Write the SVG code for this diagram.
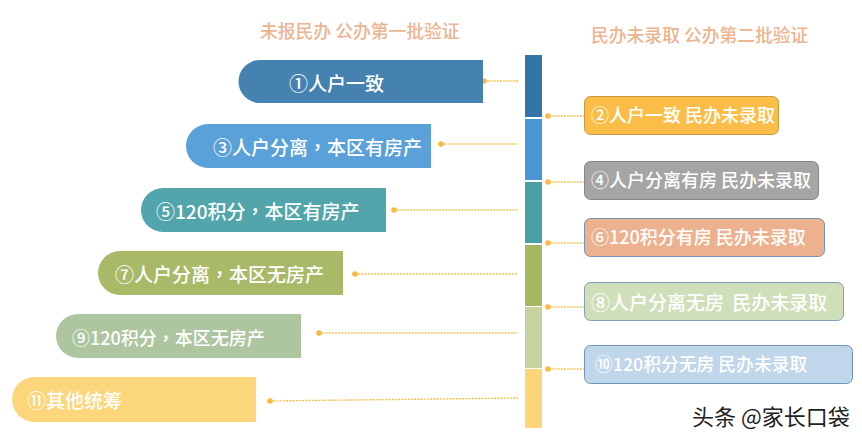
<svg xmlns="http://www.w3.org/2000/svg" width="862" height="441" viewBox="0 0 862 441">
<style>
text{font-family:"Noto Sans CJK SC","Noto Sans",sans-serif;}
.h{font-size:17.800px;fill:#edb490;font-weight:500}
.t{font-size:18px;fill:#fff;font-weight:500}
.l{font-size:19px}
.p{font-family:"Noto Sans CJK TC","Noto Sans",sans-serif}
.c{stroke:#fbc04f;stroke-width:1.400;stroke-dasharray:2 1.200;fill:none}
.d{fill:#fbb93f}
</style>
<rect width="862" height="441" fill="#fff"/>
<g id="headings">
<text class="h" x="260" y="38">未报民办 公办第一批验证</text>
<text class="h" x="591" y="42">民办未录取 公办第二批验证</text>
</g>
<g id="column">
<rect x="525" y="55" width="17" height="62" fill="#3273a8"/>
<rect x="525" y="119" width="17" height="61" fill="#4897d3"/>
<rect x="525" y="182" width="17" height="61" fill="#4a9fa5"/>
<rect x="525" y="245" width="17" height="61" fill="#a5b860"/>
<rect x="525" y="307" width="17" height="61" fill="#c6d2a0"/>
<rect x="525" y="369" width="17" height="59" fill="#fbd578"/>
</g>
<g id="connectors">
<path class="c" d="M484 81H518M441 144H518M394 210H518M355 274H518M319 333H518M270 401L518 398"/>
<path class="c" d="M548 116H584M548 182H584M548 243H584M548 307H584M548 369H584"/>
<circle class="d" cx="484" cy="81" r="2.800"/><circle class="d" cx="441" cy="144" r="2.800"/><circle class="d" cx="394" cy="210" r="2.800"/><circle class="d" cx="355" cy="274" r="2.800"/><circle class="d" cx="319" cy="333" r="2.800"/><circle class="d" cx="270" cy="401" r="2.800"/>
<circle class="d" cx="548" cy="116" r="2.800"/><circle class="d" cx="548" cy="182" r="2.800"/><circle class="d" cx="548" cy="243" r="2.800"/><circle class="d" cx="548" cy="307" r="2.800"/><circle class="d" cx="548" cy="369" r="2.800"/>
</g>
<g id="n1"><path d="M483 60V103H260A21.500 21.500 0 0 1 260 60Z" fill="#4682b0"/><text class="t l" x="289" y="91">①人户一致</text></g>
<g id="n3"><path d="M431 124V168H208A22 22 0 0 1 208 124Z" fill="#59a1d8"/><text class="t l" x="213" y="155">③人户分离<tspan class="p">，</tspan>本区有房产</text></g>
<g id="n5"><path d="M386 188V232H163A22 22 0 0 1 163 188Z" fill="#52a5ab"/><text class="t l" x="156" y="219">⑤120积分<tspan class="p">，</tspan>本区有房产</text></g>
<g id="n7"><path d="M343 251V295H120A22 22 0 0 1 120 251Z" fill="#a8ba68"/><text class="t l" x="115" y="282">⑦人户分离<tspan class="p">，</tspan>本区无房产</text></g>
<g id="n9"><path d="M301 314V358H78A22 22 0 0 1 78 314Z" fill="#aec6a0"/><text class="t" x="72" y="345">⑨120积分<tspan class="p">，</tspan>本区无房产</text></g>
<g id="n11"><path d="M256 377V422H34.500A22.500 22.500 0 0 1 34.500 377Z" fill="#fbd67a"/><text class="t l" x="27" y="408">⑪其他统筹</text></g>
<g id="n2"><rect x="584.500" y="96.500" width="194" height="38" rx="6" fill="#fabe48" stroke="#c9993d"/><text class="t" x="591" y="122">②人户一致 民办未录取</text></g>
<g id="n4"><rect x="584.500" y="161.500" width="234" height="38" rx="6" fill="#a5a5a5" stroke="#878787"/><text class="t" x="591" y="187">④人户分离有房 民办未录取</text></g>
<g id="n6"><rect x="584.500" y="218.500" width="240" height="38" rx="6" fill="#ecb28f" stroke="#6f94b8"/><text class="t" x="591" y="244">⑥120积分有房 民办未录取</text></g>
<g id="n8"><rect x="584.500" y="282.500" width="259" height="38" rx="6" fill="#cfdfb9" stroke="#7f9fbd"/><text class="t l" x="591" y="310" word-spacing="4">⑧人户分离无房 民办未录取</text></g>
<g id="n10"><rect x="584.500" y="345.500" width="268" height="38" rx="6" fill="#c0d6ea" stroke="#6f94b8"/><text class="t" x="595" y="371" style="font-size:17.800px">⑩120积分无房 民办未录取</text></g>
<g id="watermark"><text x="692" y="425" style="font-size:22px" fill="#222">头条 @家长口袋</text></g>
</svg>
